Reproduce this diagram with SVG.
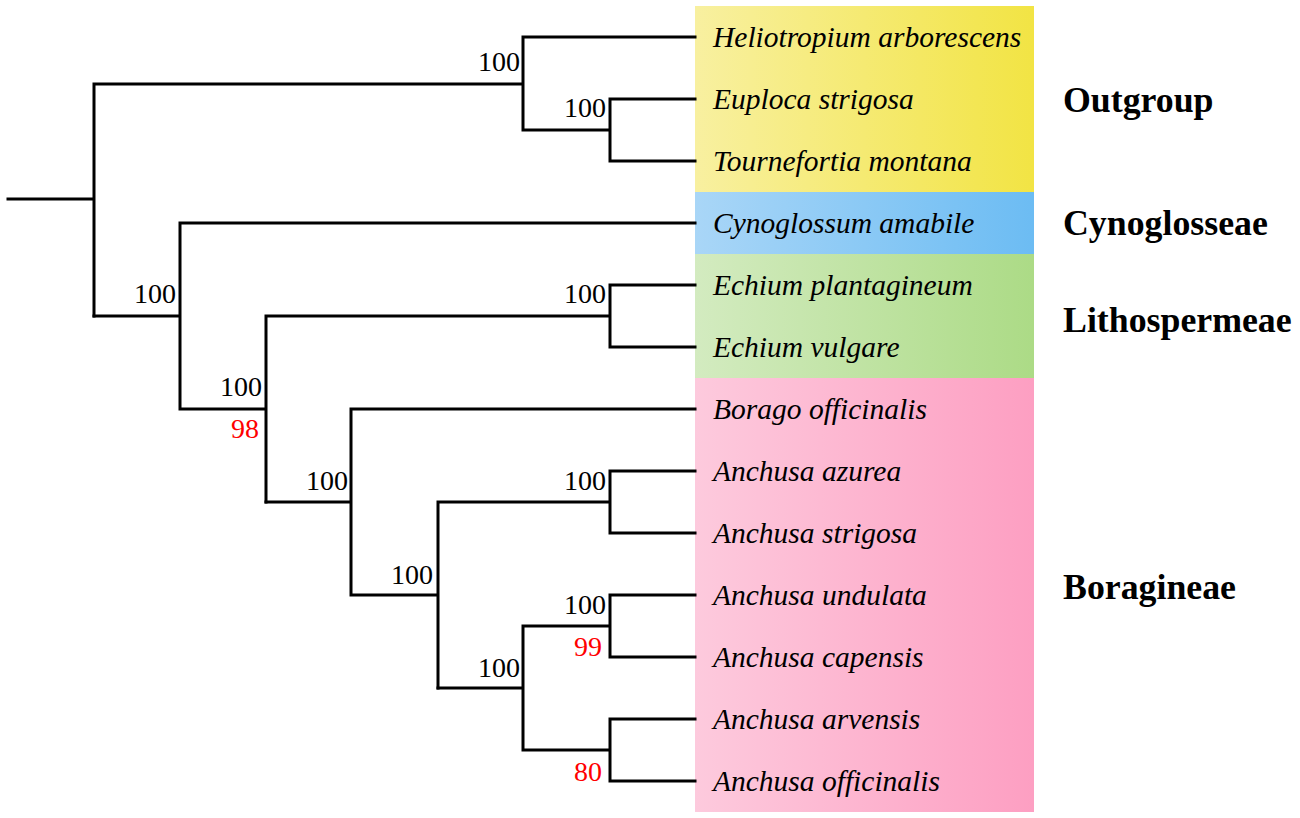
<svg xmlns="http://www.w3.org/2000/svg" width="1300" height="818" viewBox="0 0 1300 818">
<defs>
<linearGradient id="gY" x1="0" x2="1" y1="0" y2="0"><stop offset="0" stop-color="#f8f0a0"/><stop offset="1" stop-color="#f2e444"/></linearGradient>
<linearGradient id="gB" x1="0" x2="1" y1="0" y2="0"><stop offset="0" stop-color="#a9d6f7"/><stop offset="1" stop-color="#6cbcf3"/></linearGradient>
<linearGradient id="gG" x1="0" x2="1" y1="0" y2="0"><stop offset="0" stop-color="#d3ebc0"/><stop offset="1" stop-color="#acdb86"/></linearGradient>
<linearGradient id="gP" x1="0" x2="1" y1="0" y2="0"><stop offset="0" stop-color="#fdcadd"/><stop offset="1" stop-color="#fd9fc2"/></linearGradient>
</defs>
<style>
.br{fill:none;stroke:#000;stroke-width:3;stroke-linecap:square}
.sp{font-family:"Liberation Serif",serif;font-style:italic;font-size:29.5px;fill:#000}
.bs{font-family:"Liberation Serif",serif;font-size:28px;fill:#000;text-anchor:end}
.red{fill:#ff0000}
.grp{font-family:"Liberation Serif",serif;font-weight:bold;font-size:35.8px;fill:#000}
</style>
<rect width="1300" height="818" fill="#fff"/>
<g id="bands">
<rect x="695" y="6" width="339" height="186" fill="url(#gY)"/>
<rect x="695" y="192" width="339" height="62" fill="url(#gB)"/>
<rect x="695" y="254" width="339" height="124" fill="url(#gG)"/>
<rect x="695" y="378" width="339" height="434" fill="url(#gP)"/>
</g>
<g id="connectors">
<path class="br" d="M8,199H94M94,84V316M94,84H523M523,37V130M523,37H695M523,130H610M610,99V161M610,99H695M610,161H695"/>
<path class="br" d="M94,316H180M180,223V409M180,223H695M180,409H266M266,316V502M266,316H610M610,285V347M610,285H695M610,347H695"/>
<path class="br" d="M266,502H351M351,409V595M351,409H695M351,595H438M438,502V688M438,502H610M610,471V533M610,471H695M610,533H695"/>
<path class="br" d="M438,688H523M523,626V750M523,626H610M610,595V657M610,595H695M610,657H695M523,750H610M610,719V781M610,719H695M610,781H695"/>
</g>
<g id="support">
<text class="bs" x="520" y="71">100</text>
<text class="bs" x="606" y="117">100</text>
<text class="bs" x="176" y="303">100</text>
<text class="bs" x="606" y="303">100</text>
<text class="bs" x="262" y="396">100</text>
<text class="bs red" x="259" y="438">98</text>
<text class="bs" x="348" y="490">100</text>
<text class="bs" x="606" y="490">100</text>
<text class="bs" x="433" y="584">100</text>
<text class="bs" x="606" y="614">100</text>
<text class="bs red" x="602" y="656">99</text>
<text class="bs" x="520" y="677">100</text>
<text class="bs red" x="602" y="781">80</text>
</g>
<g id="taxa">
<text class="sp" x="713" y="47">Heliotropium arborescens</text>
<text class="sp" x="713" y="109">Euploca strigosa</text>
<text class="sp" x="713" y="171">Tournefortia montana</text>
<text class="sp" x="713" y="233">Cynoglossum amabile</text>
<text class="sp" x="713" y="295">Echium plantagineum</text>
<text class="sp" x="713" y="357">Echium vulgare</text>
<text class="sp" x="713" y="419">Borago officinalis</text>
<text class="sp" x="713" y="481">Anchusa azurea</text>
<text class="sp" x="713" y="543">Anchusa strigosa</text>
<text class="sp" x="713" y="605">Anchusa undulata</text>
<text class="sp" x="713" y="667">Anchusa capensis</text>
<text class="sp" x="713" y="729">Anchusa arvensis</text>
<text class="sp" x="713" y="791">Anchusa officinalis</text>
</g>
<g id="groups">
<text class="grp" x="1063" y="112">Outgroup</text>
<text class="grp" x="1063" y="235">Cynoglosseae</text>
<text class="grp" x="1063" y="332">Lithospermeae</text>
<text class="grp" x="1063" y="599">Boragineae</text>
</g>
</svg>
